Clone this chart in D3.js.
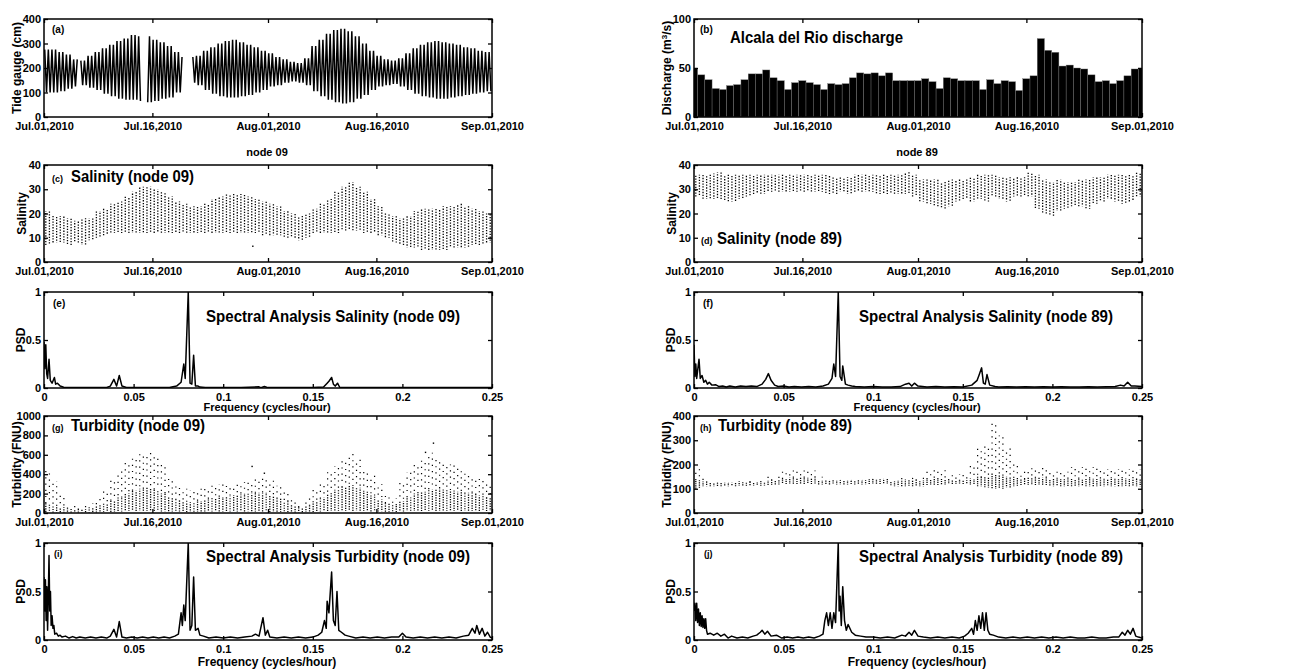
<!DOCTYPE html>
<html>
<head>
<meta charset="utf-8">
<script src="https://cdn.jsdelivr.net/npm/d3@7"></script>
<style>
  body { margin: 0; background: #fff; }
  svg { display: block; font-family: "Liberation Sans", Arial, sans-serif; font-weight: bold; }
</style>
</head>
<body>
<script>
// ---- données (jours depuis le 01/07/2010) ----
const dateTickDays = [0, 15, 31, 46, 62]
const freqTicks = [0, 0.05, 0.1, 0.15, 0.2, 0.25]

// (a) marégraphe : pleine mer / basse mer par jour (cm)
const tideHigh = [275,275,265,255,235,230,250,265,280,295,310,320,335,330,330,315,305,290,265,245,245,250,270,285,300,310,315,305,295,285,270,260,245,235,225,220,240,290,315,340,355,360,350,330,300,270,250,235,230,240,260,280,295,305,310,305,300,295,285,280,270,265]
const tideLow = [100,100,105,115,125,130,120,110,95,85,75,70,70,65,60,65,75,80,100,115,140,130,110,95,85,80,80,85,90,100,110,125,130,140,145,140,130,105,85,70,60,55,60,75,90,110,125,130,135,125,110,95,85,80,75,75,80,85,90,95,100,105]
const tideGaps = [[4.75, 4.95], [13.35, 14.2], [19.25, 20.5]]

// (b) débit journalier Alcala del Rio (m3/s)
const discharge = [50,43,38,29,28,32,33,38,44,44,48,40,37,28,35,37,35,33,28,34,33,34,40,45,44,45,42,45,37,37,37,37,39,36,29,40,39,37,37,37,28,38,34,37,36,27,39,42,80,68,66,52,53,50,49,43,36,37,34,37,42,49,50]

// (c) salinité node 09 : min / max par jour
const sal09Min = [7,8,8,7,8,7,9,10,11,12,12,12,12,12,12,12,12,12,12,12,12,12,12,12,12,12,12,12,12,12,11,11,11,10,10,9,10,12,12,12,12,13,13,13,12,12,11,10,8,7,6,6,5,5,5,5,6,6,6,7,7,8]
const sal09Max = [21,19,19,18,17,18,18,21,22,24,25,27,29,31,31,30,29,27,25,24,23,23,24,26,27,28,28,28,27,26,25,24,23,21,20,19,20,22,24,26,29,31,33,31,29,26,23,20,19,18,19,21,22,22,22,23,23,24,23,22,21,20]
const sal09Extra = [[28.9, 6.5]]

// (d) salinité node 89
const sal89Min = [27,26,26,26,25,25,26,27,28,28,29,29,29,29,29,29,29,29,28,28,29,28,29,29,29,28,28,28,28,28,27,25,24,23,22,23,25,26,25,26,25,27,26,25,27,27,27,22,20,19,21,22,23,23,22,24,25,26,25,24,25,27]
const sal89Max = [36,36,36.5,37,36,36,36,36,36,36,36,36,36,36,36,36,36,36,36,35,35,35,36,36,36,36,36,36,36,37,36,34,34,34,33,34,34,34,35,36,36,36,35,35,35,35,37,36,34,33,34,33,33,34,34,35,35,36,36,36,36,37]

// (g) turbidité node 09 : min / haut de la zone dense / max (FNU)
const turb09Min = [10,5,5,5,5,5,5,5,10,10,15,20,20,20,20,20,15,15,15,10,10,10,15,15,15,15,15,15,15,15,15,10,10,10,5,5,10,10,15,20,20,20,20,20,20,15,15,10,10,15,20,20,20,20,20,20,20,20,20,20,20,20]
const turb09Mid = [100,80,60,50,40,40,50,70,100,130,160,200,230,250,260,240,200,160,130,110,110,120,140,150,160,170,180,190,200,210,200,180,150,120,80,60,80,120,160,200,240,270,280,260,220,180,140,100,80,120,160,200,220,240,250,240,230,220,210,200,180,160]
const turb09Max = [440,330,200,90,80,80,100,150,250,350,430,530,560,620,630,600,500,380,280,250,230,250,270,300,300,290,300,320,330,360,380,340,280,230,150,100,150,250,330,420,480,560,610,560,450,390,300,200,150,320,420,500,560,620,550,520,500,460,430,380,350,300]
const turb09Extra = [[53.9, 720], [52.8, 625], [28.8, 480], [30.5, 410]]

// (h) turbidité node 89
const turb89Min = [100,110,110,110,110,110,112,112,112,112,115,115,120,120,120,120,120,118,118,118,118,118,118,118,120,120,120,110,110,110,110,110,115,115,115,120,120,120,115,110,105,100,100,105,110,115,115,115,115,110,110,110,110,110,110,110,110,110,110,110,110,110]
const turb89Mid = [135,130,125,125,125,125,128,128,128,128,135,135,140,145,145,145,145,135,135,135,135,135,135,135,140,140,140,130,135,135,135,135,140,140,140,135,135,135,140,150,150,160,155,150,145,140,145,145,145,140,140,140,140,140,140,140,140,140,140,140,140,140]
const turb89Max = [180,150,125,125,125,125,135,135,135,135,150,150,170,175,175,175,175,150,135,135,135,135,135,135,140,140,140,130,150,150,150,150,180,180,180,160,160,160,200,270,280,370,320,270,200,170,190,190,190,170,170,170,190,190,190,190,180,180,180,180,180,180]

// spectres [fréquence, PSD]
const psdSal09 = [[0,0.48],[0.0005,0.2],[0.001,0.45],[0.0015,0.15],[0.002,0.1],[0.0028,0.3],[0.0035,0.08],[0.0045,0.05],[0.0058,0.11],[0.0065,0.04],[0.0075,0.05],[0.009,0.02],[0.011,0.008],[0.015,0.005],[0.02,0.006],[0.025,0.004],[0.03,0.005],[0.035,0.006],[0.037,0.02],[0.039,0.09],[0.0405,0.02],[0.042,0.13],[0.0435,0.02],[0.046,0.006],[0.05,0.004],[0.055,0.005],[0.06,0.004],[0.065,0.006],[0.07,0.005],[0.074,0.02],[0.0765,0.06],[0.078,0.25],[0.0788,0.1],[0.0805,1.0],[0.0815,0.05],[0.0825,0.04],[0.0835,0.34],[0.0845,0.02],[0.086,0.02],[0.087,0.01],[0.09,0.005],[0.1,0.004],[0.11,0.005],[0.12,0.012],[0.121,0.004],[0.123,0.015],[0.125,0.004],[0.13,0.004],[0.14,0.005],[0.15,0.004],[0.156,0.01],[0.158,0.05],[0.159,0.07],[0.1605,0.11],[0.1615,0.04],[0.1625,0.02],[0.1638,0.05],[0.165,0.008],[0.17,0.004],[0.18,0.004],[0.19,0.005],[0.2,0.004],[0.21,0.004],[0.22,0.004],[0.23,0.005],[0.24,0.006],[0.25,0.004]]
const psdSal89 = [[0,0.45],[0.0005,0.12],[0.001,0.25],[0.0015,0.1],[0.0028,0.3],[0.0035,0.1],[0.0045,0.13],[0.0055,0.06],[0.0065,0.08],[0.0075,0.04],[0.0085,0.06],[0.01,0.03],[0.012,0.035],[0.014,0.015],[0.016,0.02],[0.018,0.01],[0.02,0.02],[0.023,0.01],[0.026,0.02],[0.029,0.015],[0.032,0.02],[0.035,0.015],[0.038,0.04],[0.04,0.09],[0.0415,0.15],[0.043,0.08],[0.045,0.03],[0.047,0.015],[0.05,0.02],[0.053,0.01],[0.056,0.015],[0.06,0.01],[0.064,0.015],[0.068,0.01],[0.072,0.02],[0.075,0.04],[0.077,0.1],[0.078,0.25],[0.079,0.12],[0.0805,1.0],[0.0815,0.12],[0.0825,0.08],[0.083,0.23],[0.0845,0.04],[0.086,0.03],[0.088,0.02],[0.09,0.015],[0.095,0.01],[0.1,0.015],[0.105,0.01],[0.11,0.01],[0.115,0.015],[0.118,0.04],[0.12,0.05],[0.1215,0.02],[0.123,0.05],[0.125,0.02],[0.13,0.01],[0.135,0.015],[0.14,0.01],[0.145,0.012],[0.15,0.01],[0.155,0.03],[0.158,0.08],[0.159,0.13],[0.1605,0.21],[0.1615,0.05],[0.1625,0.04],[0.1635,0.14],[0.165,0.03],[0.168,0.015],[0.17,0.01],[0.175,0.012],[0.18,0.01],[0.185,0.012],[0.19,0.01],[0.195,0.012],[0.2,0.01],[0.205,0.012],[0.21,0.01],[0.215,0.01],[0.22,0.012],[0.225,0.01],[0.23,0.012],[0.235,0.015],[0.238,0.03],[0.24,0.02],[0.242,0.06],[0.244,0.02],[0.246,0.02],[0.25,0.015]]
const psdTurb09 = [[0,0.65],[0.0004,0.3],[0.0008,0.62],[0.0012,0.2],[0.0016,0.55],[0.002,0.1],[0.0024,0.45],[0.0028,0.87],[0.0032,0.3],[0.0036,0.5],[0.004,0.15],[0.0045,0.25],[0.005,0.12],[0.0055,0.15],[0.006,0.06],[0.007,0.07],[0.008,0.04],[0.009,0.05],[0.01,0.03],[0.012,0.04],[0.014,0.02],[0.016,0.035],[0.018,0.02],[0.02,0.03],[0.023,0.02],[0.026,0.03],[0.029,0.02],[0.032,0.03],[0.035,0.02],[0.037,0.04],[0.039,0.11],[0.0405,0.03],[0.042,0.19],[0.0435,0.03],[0.046,0.02],[0.049,0.03],[0.052,0.02],[0.055,0.03],[0.058,0.02],[0.061,0.03],[0.064,0.02],[0.067,0.03],[0.07,0.02],[0.073,0.04],[0.075,0.06],[0.0765,0.28],[0.0772,0.15],[0.078,0.36],[0.0788,0.2],[0.0805,1.0],[0.0815,0.1],[0.0825,0.15],[0.0835,0.65],[0.0845,0.1],[0.086,0.12],[0.087,0.05],[0.089,0.04],[0.092,0.02],[0.096,0.03],[0.1,0.02],[0.104,0.03],[0.108,0.02],[0.112,0.03],[0.116,0.04],[0.118,0.06],[0.12,0.04],[0.1222,0.23],[0.1235,0.05],[0.1248,0.1],[0.126,0.03],[0.13,0.02],[0.134,0.03],[0.138,0.02],[0.142,0.03],[0.146,0.02],[0.15,0.03],[0.153,0.05],[0.155,0.08],[0.1565,0.2],[0.1575,0.12],[0.158,0.4],[0.159,0.28],[0.1605,0.7],[0.1615,0.2],[0.1625,0.15],[0.1635,0.5],[0.1645,0.1],[0.166,0.08],[0.168,0.05],[0.17,0.04],[0.174,0.02],[0.178,0.03],[0.182,0.02],[0.186,0.03],[0.19,0.02],[0.194,0.03],[0.198,0.03],[0.2,0.07],[0.202,0.03],[0.206,0.02],[0.21,0.03],[0.214,0.02],[0.218,0.03],[0.222,0.02],[0.226,0.03],[0.23,0.02],[0.234,0.04],[0.237,0.05],[0.239,0.12],[0.2405,0.07],[0.2415,0.15],[0.243,0.06],[0.2445,0.12],[0.246,0.04],[0.2475,0.08],[0.249,0.03],[0.25,0.02]]
const psdTurb89 = [[0,0.3],[0.0005,0.38],[0.001,0.2],[0.0015,0.38],[0.002,0.18],[0.0025,0.32],[0.003,0.15],[0.0035,0.28],[0.004,0.14],[0.0045,0.25],[0.005,0.13],[0.0055,0.22],[0.006,0.12],[0.0065,0.22],[0.007,0.1],[0.0075,0.06],[0.009,0.07],[0.011,0.05],[0.013,0.07],[0.015,0.04],[0.017,0.06],[0.019,0.02],[0.021,0.04],[0.024,0.02],[0.027,0.03],[0.03,0.02],[0.033,0.04],[0.035,0.05],[0.037,0.08],[0.038,0.1],[0.0395,0.06],[0.041,0.09],[0.043,0.04],[0.046,0.05],[0.049,0.02],[0.052,0.03],[0.055,0.02],[0.058,0.03],[0.061,0.02],[0.064,0.03],[0.067,0.02],[0.07,0.04],[0.072,0.06],[0.073,0.2],[0.074,0.28],[0.075,0.15],[0.076,0.28],[0.077,0.12],[0.078,0.28],[0.079,0.18],[0.0805,1.0],[0.081,0.3],[0.0815,0.45],[0.0822,0.15],[0.083,0.55],[0.084,0.2],[0.085,0.1],[0.086,0.16],[0.088,0.08],[0.09,0.05],[0.093,0.04],[0.096,0.03],[0.1,0.03],[0.104,0.02],[0.108,0.03],[0.112,0.02],[0.116,0.05],[0.118,0.04],[0.12,0.08],[0.1215,0.05],[0.123,0.1],[0.125,0.04],[0.128,0.03],[0.132,0.02],[0.136,0.03],[0.14,0.02],[0.144,0.03],[0.148,0.02],[0.151,0.04],[0.153,0.07],[0.155,0.12],[0.156,0.06],[0.157,0.2],[0.158,0.1],[0.159,0.25],[0.16,0.12],[0.161,0.28],[0.162,0.1],[0.163,0.28],[0.164,0.1],[0.165,0.06],[0.167,0.05],[0.17,0.03],[0.174,0.02],[0.178,0.03],[0.182,0.02],[0.186,0.03],[0.19,0.02],[0.194,0.03],[0.198,0.02],[0.202,0.03],[0.206,0.02],[0.21,0.03],[0.214,0.02],[0.218,0.02],[0.222,0.03],[0.226,0.02],[0.23,0.02],[0.234,0.03],[0.237,0.03],[0.239,0.08],[0.2405,0.05],[0.242,0.1],[0.2435,0.06],[0.245,0.12],[0.2465,0.04],[0.248,0.03],[0.25,0.02]]

// ---- mise en page ----
const svg = d3.select('body').append('svg')
  .attr('width', 1298)
  .attr('height', 670)

const t0 = Date.UTC(2010, 6, 1)
const day = d => new Date(t0 + d * 864e5)
const fmtDate = d3.utcFormat('%b.%d,%Y')

const cols = [44, 694]
const plotW = 448
const rows = [[19, 117], [165, 262], [292, 388], [416, 513], [543, 640]]

// Crée un panneau (échelles + clip)
function panel(id, col, row, kind, yMax) {
  const left = cols[col], right = left + plotW
  const [top, bottom] = rows[row]
  const x = kind === 'freq'
    ? d3.scaleLinear().domain([0, 0.25]).range([left, right])
    : d3.scaleUtc().domain([day(0), day(62)]).range([left, right])
  const y = d3.scaleLinear().domain([0, yMax]).range([bottom, top])
  const g = svg.append('g').attr('id', id)
  g.append('clipPath').attr('id', `clip-${id}`)
    .append('rect').attr('x', left).attr('y', top).attr('width', plotW).attr('height', bottom - top)
  const plot = g.append('g').attr('clip-path', `url(#clip-${id})`)
  return { id, g, plot, x, y, left, right, top, bottom, kind }
}

// Axes style MATLAB : ticks vers l'intérieur sur les 4 côtés + cadre
function axes(p, yTicks, yFmt) {
  const { g, x, y, left, right, top, bottom, kind } = p
  const xt = kind === 'freq' ? freqTicks : dateTickDays.map(day)
  const xf = kind === 'freq' ? d => String(d) : fmtDate
  const ax = g.append('g').attr('class', 'axes')
  ax.append('g').attr('transform', `translate(0,${bottom})`)
    .call(d3.axisBottom(x).tickValues(xt).tickFormat(xf).tickSizeInner(-4).tickSizeOuter(0).tickPadding(5))
  ax.append('g').attr('transform', `translate(0,${top})`)
    .call(d3.axisTop(x).tickValues(xt).tickFormat('').tickSizeInner(-4).tickSizeOuter(0))
  ax.append('g').attr('transform', `translate(${left},0)`)
    .call(d3.axisLeft(y).tickValues(yTicks).tickFormat(yFmt).tickSizeInner(-4).tickSizeOuter(0).tickPadding(3))
  ax.append('g').attr('transform', `translate(${right},0)`)
    .call(d3.axisRight(y).tickValues(yTicks).tickFormat('').tickSizeInner(-4).tickSizeOuter(0))
  ax.selectAll('.domain').remove()
  ax.selectAll('g').attr('font-family', null).attr('font-size', null)
  ax.selectAll('.tick line').attr('stroke', '#000').attr('stroke-width', 1.3)
  ax.selectAll('.tick text').attr('font-size', 11).attr('fill', '#000')
  ax.append('rect')
    .attr('x', left).attr('y', top).attr('width', right - left).attr('height', bottom - top)
    .attr('fill', 'none').attr('stroke', '#000').attr('stroke-width', 1.5)
}

function yTitle(p, x, parts) {
  const t = p.g.append('text')
    .attr('transform', `translate(${x},${(p.top + p.bottom) / 2}) rotate(-90)`)
    .attr('text-anchor', 'middle')
    .attr('font-size', 12)
  parts.forEach(s => {
    const ts = t.append('tspan').text(s.t)
    if (s.sup) ts.attr('dy', -4).attr('font-size', 8)
    if (s.after) ts.attr('dy', 4)
  })
}

function label(p, x, y, txt, size, len) {
  const t = p.g.append('text').attr('x', x).attr('y', y).attr('font-size', size).text(txt)
  if (len) t.attr('textLength', len).attr('lengthAdjust', 'spacingAndGlyphs')
}

// Colonnes de points (min -> zone dense -> max), 2 par jour
function dotColumns(p, lo, mid, hi, dense, sparse) {
  const cols = []
  lo.forEach((v, d) => [0.25, 0.75].forEach(o => cols.push({ t: d + o, lo: v, mid: mid ? mid[d] : hi[d], hi: hi[d] })))
  p.plot.selectAll('line.dense').data(cols).enter().append('line')
    .attr('class', 'dense')
    .attr('x1', c => p.x(day(c.t))).attr('x2', c => p.x(day(c.t)))
    .attr('y1', c => p.y(c.lo)).attr('y2', c => p.y(c.mid))
    .attr('stroke', '#000').attr('stroke-width', 1.3).attr('stroke-dasharray', dense)
    .attr('stroke-dashoffset', (c, i) => (i * 1.3) % 3)
  if (mid) {
    p.plot.selectAll('line.sparse').data(cols).enter().append('line')
      .attr('class', 'sparse')
      .attr('x1', c => p.x(day(c.t))).attr('x2', c => p.x(day(c.t)))
      .attr('y1', c => p.y(c.mid)).attr('y2', c => p.y(c.hi))
      .attr('stroke', '#000').attr('stroke-width', 1.2).attr('stroke-dasharray', sparse)
      .attr('stroke-dashoffset', (c, i) => (i * 2.3) % 7)
  }
}

function extraDots(p, pts) {
  p.plot.selectAll('rect.extra').data(pts).enter().append('rect')
    .attr('class', 'extra')
    .attr('x', d => p.x(day(d[0])) - 0.7).attr('y', d => p.y(d[1]) - 0.7)
    .attr('width', 1.4).attr('height', 1.4).attr('fill', '#000')
}

function spectrum(p, data) {
  p.plot.append('path').datum(data)
    .attr('d', d3.line().x(d => p.x(d[0])).y(d => p.y(d[1])))
    .attr('fill', 'none').attr('stroke', '#000').attr('stroke-width', 1.5).attr('stroke-linejoin', 'round')
}

const fmtPsd = d => String(d)

// (a) Marégraphe
const pa = panel('a', 0, 0, 'date', 400)
const tidePts = []
tideHigh.forEach((h, d) => {
  [0, 0.5].forEach(o => {
    tidePts.push({ t: d + o + 0.1, v: h })
    tidePts.push({ t: d + o + 0.35, v: tideLow[d] })
  })
})
const inGap = t => tideGaps.some(([s, e]) => t > s && t < e)
pa.plot.append('path').datum(tidePts)
  .attr('d', d3.line().defined(p => !inGap(p.t)).x(p => pa.x(day(p.t))).y(p => pa.y(p.v)))
  .attr('fill', 'none').attr('stroke', '#000').attr('stroke-width', 1.5)
axes(pa, [0, 100, 200, 300, 400], d3.format('d'))
yTitle(pa, 21, [{ t: 'Tide gauge (cm)' }])
label(pa, 52, 33, '(a)', 10)

// (b) Débit
const pb = panel('b', 1, 0, 'date', 100)
const barW = pb.x(day(1)) - pb.x(day(0))
pb.plot.selectAll('rect').data(discharge).enter().append('rect')
  .attr('x', (d, i) => pb.x(day(i)) - barW / 2)
  .attr('y', d => pb.y(d))
  .attr('width', barW)
  .attr('height', d => pb.bottom - pb.y(d))
  .attr('fill', '#000').attr('stroke', '#777').attr('stroke-width', 0.4)
axes(pb, [0, 50, 100], d3.format('d'))
yTitle(pb, 671, [{ t: 'Discharge (m' }, { t: '3', sup: true }, { t: '/s)', after: true }])
label(pb, 700, 33, '(b)', 10)
label(pb, 730, 43, 'Alcala del Rio discharge', 17, 173)

// (c) Salinité node 09
const pc = panel('c', 0, 1, 'date', 40)
dotColumns(pc, sal09Min, null, sal09Max, '1.3,1.5')
extraDots(pc, sal09Extra)
axes(pc, [0, 10, 20, 30, 40], d3.format('d'))
yTitle(pc, 26, [{ t: 'Salinity' }])
svg.append('text').attr('x', 267).attr('y', 156).attr('text-anchor', 'middle').attr('font-size', 11).text('node 09')
label(pc, 52, 182, '(c)', 9)
label(pc, 71, 182, 'Salinity (node 09)', 17, 123)

// (d) Salinité node 89
const pd = panel('d', 1, 1, 'date', 40)
dotColumns(pd, sal89Min, null, sal89Max, '1.3,1.5')
axes(pd, [0, 10, 20, 30, 40], d3.format('d'))
yTitle(pd, 676, [{ t: 'Salinity' }])
svg.append('text').attr('x', 917).attr('y', 156).attr('text-anchor', 'middle').attr('font-size', 11).text('node 89')
label(pd, 701, 244, '(d)', 9)
label(pd, 717, 244, 'Salinity (node 89)', 17, 125)

// (e) Spectre salinité node 09
const pe = panel('e', 0, 2, 'freq', 1)
spectrum(pe, psdSal09)
axes(pe, [0, 0.5, 1], fmtPsd)
yTitle(pe, 25, [{ t: 'PSD' }])
label(pe, 53, 307, '(e)', 10)
label(pe, 206, 322, 'Spectral Analysis Salinity (node 09)', 17, 254)
svg.append('text').attr('x', 267).attr('y', 411).attr('text-anchor', 'middle').attr('font-size', 11).text('Frequency (cycles/hour)')

// (f) Spectre salinité node 89
const pf = panel('f', 1, 2, 'freq', 1)
spectrum(pf, psdSal89)
axes(pf, [0, 0.5, 1], fmtPsd)
yTitle(pf, 675, [{ t: 'PSD' }])
label(pf, 703, 307, '(f)', 10)
label(pf, 859, 322, 'Spectral Analysis Salinity (node 89)', 17, 254)
svg.append('text').attr('x', 917).attr('y', 411).attr('text-anchor', 'middle').attr('font-size', 11).text('Frequency (cycles/hour)')

// (g) Turbidité node 09
const pg = panel('g', 0, 3, 'date', 1000)
dotColumns(pg, turb09Min, turb09Mid, turb09Max, '1.2,1.3', '1.2,5')
extraDots(pg, turb09Extra)
axes(pg, [0, 200, 400, 600, 800, 1000], d3.format('d'))
yTitle(pg, 21, [{ t: 'Turbidity (FNU)' }])
label(pg, 52, 431, '(g)', 9)
label(pg, 71, 431, 'Turbidity (node 09)', 17, 134)

// (h) Turbidité node 89
const ph = panel('h', 1, 3, 'date', 400)
dotColumns(ph, turb89Min, turb89Mid, turb89Max, '1.2,1', '1.2,5')
axes(ph, [0, 100, 200, 300, 400], d3.format('d'))
yTitle(ph, 671, [{ t: 'Turbidity (FNU)' }])
label(ph, 700, 431, '(h)', 9)
label(ph, 718, 431, 'Turbidity (node 89)', 17, 134)

// (i) Spectre turbidité node 09
const pi = panel('i', 0, 4, 'freq', 1)
spectrum(pi, psdTurb09)
axes(pi, [0, 0.5, 1], fmtPsd)
yTitle(pi, 25, [{ t: 'PSD' }])
label(pi, 54, 557, '(i)', 9)
label(pi, 206, 562, 'Spectral Analysis Turbidity (node 09)', 17, 264)
svg.append('text').attr('x', 267).attr('y', 666).attr('text-anchor', 'middle').attr('font-size', 12).text('Frequency (cycles/hour)')

// (j) Spectre turbidité node 89
const pj = panel('j', 1, 4, 'freq', 1)
spectrum(pj, psdTurb89)
axes(pj, [0, 0.5, 1], fmtPsd)
yTitle(pj, 675, [{ t: 'PSD' }])
label(pj, 704, 557, '(j)', 9)
label(pj, 859, 562, 'Spectral Analysis Turbidity (node 89)', 17, 264)
svg.append('text').attr('x', 917).attr('y', 666).attr('text-anchor', 'middle').attr('font-size', 12).text('Frequency (cycles/hour)')
</script>
</body>
</html>
